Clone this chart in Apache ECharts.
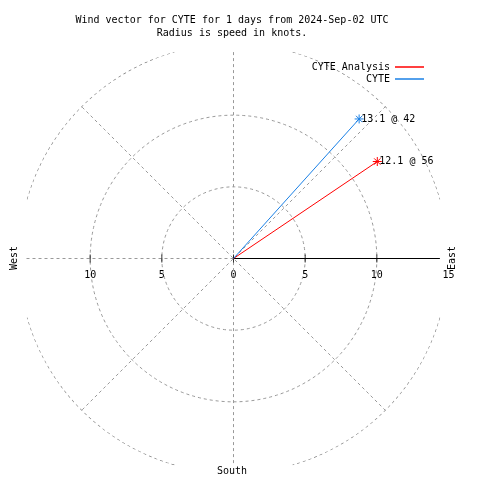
<!DOCTYPE html>
<html>
<head>
<meta charset="utf-8">
<script src="https://cdn.jsdelivr.net/npm/echarts@6/dist/echarts.min.js"></script>
<style>html,body{margin:0;padding:0;background:#fff;}#c{width:480px;height:480px;}</style>
</head>
<body>
<div id="c"></div>
<script>
// ---- data ----
const seriesNames = ['CYTE Analysis', 'CYTE'];
const speeds = [12.1, 13.1];       // knots
const directions = [56, 42];       // degrees (compass)
const radiusTicks = [-15, -10, -5, 0, 5, 10, 15];
const titleLines = ['Wind vector for CYTE for 1 days from 2024-Sep-02 UTC', 'Radius is speed in knots.'];

// ---- styles ----
const FONT = 'DejaVu Sans Mono';
const GRID = '#999999';
const lineColors = ['#ff0000', '#1a80e6'];
const C = [233.5, 258.5];
const R = 215;

const chart = echarts.init(document.getElementById('c'), null, {renderer: 'canvas'});

// decorative outer arcs (gaps near the compass axes)
const arcData = [];
for (let q = 0; q < 4; q++) {
  for (let a = 16; a <= 74; a += 1) arcData.push([15, q * 90 + a]);
  arcData.push('-');
}

const gridLine = (data, color, type, width) => ({
  type: 'line', coordinateSystem: 'polar', data: data, symbol: 'none', silent: true,
  lineStyle: {color: color, type: type, width: width || 1}, z: 1, animation: false
});

const star = 'path://M5,0L5,10M0,5L10,5M1.5,1.5L8.5,8.5M8.5,1.5L1.5,8.5';

const dataSeries = seriesNames.map((name, i) => ({
  type: 'line', name: name, coordinateSystem: 'polar', z: 5, animation: false,
  color: lineColors[i],
  lineStyle: {color: lineColors[i], width: 1},
  data: [
    {value: [0, 0], symbol: 'none'},
    {value: [speeds[i], directions[i]], symbol: star, symbolSize: 9,
     itemStyle: {color: lineColors[i], borderColor: lineColors[i], borderWidth: 1},
     label: {show: true, position: 'right', distance: -3, formatter: speeds[i].toFixed(1) + ' @ ' + directions[i],
             fontFamily: FONT, fontSize: 10, color: '#000'}}
  ]
}));

const option = {
  backgroundColor: '#fff',
  animation: false,
  polar: {center: C, radius: R},
  angleAxis: {type: 'value', min: 0, max: 360, startAngle: 90, clockwise: true,
    axisLine: {show: false}, axisTick: {show: false}, axisLabel: {show: false}, splitLine: {show: false}},
  radiusAxis: {type: 'value', min: 0, max: 15, interval: 5,
    axisLine: {show: false}, axisTick: {show: false}, axisLabel: {show: false},
    splitLine: {show: true, lineStyle: {color: ['rgba(0,0,0,0)', GRID, GRID, 'rgba(0,0,0,0)'], type: [3, 3], width: 1}}},
  grid: {left: C[0] - R, width: 2 * R, top: C[1] - R, height: R, containLabel: false},
  xAxis: {type: 'value', min: radiusTicks[0], max: radiusTicks[radiusTicks.length - 1], interval: 5,
    axisLine: {show: false}, axisTick: {show: false}, splitLine: {show: false},
    axisLabel: {margin: 12, fontFamily: FONT, fontSize: 10, color: '#000',
      formatter: v => (v === radiusTicks[0] ? '' : String(Math.abs(v)))}},
  yAxis: {type: 'value', show: false, min: 0, max: 1},
  legend: [
    {data: [seriesNames[0]], right: 51, top: 57, align: 'right', icon: 'rect', itemWidth: 29, itemHeight: 1.5,
     textStyle: {fontFamily: FONT, fontSize: 10, color: '#000'}, selectedMode: false},
    {data: [seriesNames[1]], right: 51, top: 69, align: 'right', icon: 'rect', itemWidth: 29, itemHeight: 1.5,
     textStyle: {fontFamily: FONT, fontSize: 10, color: '#000'}, selectedMode: false}
  ],
  graphic: [
    {type: 'text', style: {x: 232, y: 14, text: titleLines.join('\n'), align: 'center', lineHeight: 13,
      font: '10px "' + FONT + '"', fill: '#000'}},
    {type: 'text', x: 14, y: 258, rotation: Math.PI / 2, style: {x: 0, y: 0, text: 'West', align: 'center', verticalAlign: 'middle', font: '10px "' + FONT + '"', fill: '#000'}},
    {type: 'text', x: 452, y: 258, rotation: Math.PI / 2, style: {x: 0, y: 0, text: 'East', align: 'center', verticalAlign: 'middle', font: '10px "' + FONT + '"', fill: '#000'}},
    {type: 'text', style: {x: 232, y: 471, text: 'South', align: 'center', verticalAlign: 'middle', font: '10px "' + FONT + '"', fill: '#000'}}
  ],
  series: [
    gridLine(arcData, '#7a7a7a', [3, 3], 1.2),
    gridLine([[14.4, 0], [0, 0], [14.4, 180]], GRID, [3, 3]),
    gridLine([[0, 0], [14.5, 270]], GRID, [3, 3]),
    gridLine([[15, 45], [0, 0], [15, 225]], GRID, [3, 3]),
    gridLine([[15, 135], [0, 0], [15, 315]], GRID, [3, 3]),
    gridLine([[0, 0], [14.4, 90]], '#000', 'solid', 1),
    {type: 'scatter', coordinateSystem: 'polar', silent: true, z: 2, animation: false,
     symbol: 'rect', symbolSize: [1, 8], itemStyle: {color: '#000'},
     data: [[0, 0], [5, 90], [10, 90], [5, 270], [10, 270]]},
    ...dataSeries
  ]
};
chart.setOption(option);
</script>
</body>
</html>
